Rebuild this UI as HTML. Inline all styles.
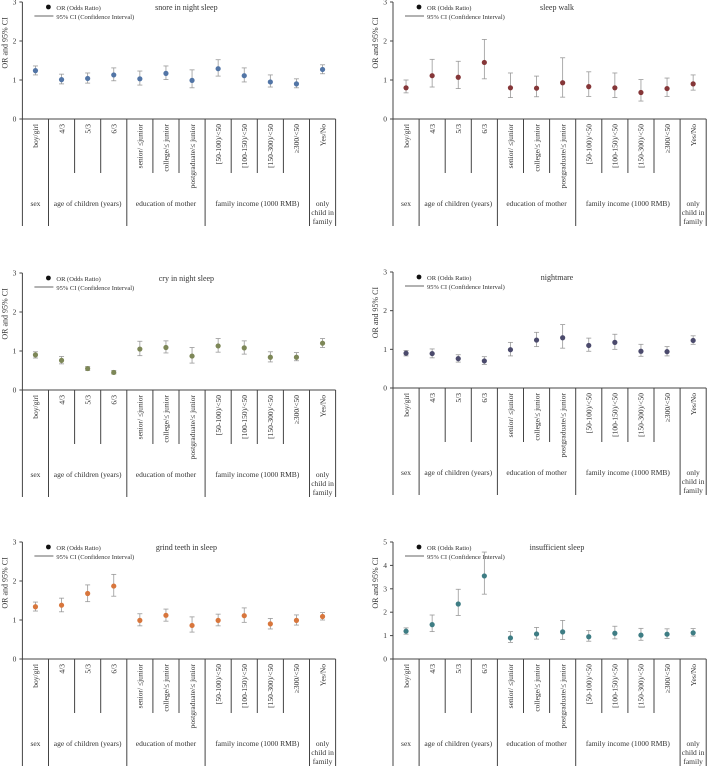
<!DOCTYPE html>
<html><head><meta charset="utf-8">
<style>
html,body{margin:0;padding:0;background:#fff;width:708px;height:768px;overflow:hidden}
svg{display:block}
text{font-family:"Liberation Serif",serif;fill:#333}
</style></head>
<body>
<svg id="fig" width="708" height="768" viewBox="0 0 708 768" xmlns="http://www.w3.org/2000/svg"></svg>
<script>
const categories = ["boy/girl","4/3","5/3","6/3","senior/ \u2264junior","college/\u2264 junior","postgraduate/\u2264 junior","[50-100)/<50","[100-150)/<50","[150-300)/<50","\u2265300/<50","Yes/No"];
const groups = [["sex",0,1],["age of children (years)",1,4],["education of mother",4,7],["family income (1000 RMB)",7,11],["only|child in|family",11,12]];
const titles = ["snore in night sleep","sleep walk","cry in night sleep","nightmare","grind teeth in sleep","insufficient sleep"];
const snoreOR = [1.24,1.01,1.04,1.13,1.03,1.17,0.99,1.29,1.11,0.95,0.90,1.27];
const snoreLo = [1.13,0.90,0.92,0.98,0.87,1.01,0.80,1.10,0.95,0.82,0.80,1.16];
const snoreHi = [1.36,1.15,1.18,1.31,1.23,1.36,1.26,1.52,1.31,1.13,1.03,1.39];
const walkOR = [0.80,1.11,1.07,1.45,0.80,0.79,0.93,0.83,0.80,0.68,0.78,0.90];
const walkLo = [0.67,0.82,0.78,1.03,0.55,0.57,0.56,0.58,0.55,0.46,0.58,0.74];
const walkHi = [1.00,1.53,1.48,2.04,1.18,1.10,1.57,1.21,1.18,1.01,1.05,1.13];
const cryOR = [0.90,0.76,0.55,0.45,1.05,1.09,0.87,1.13,1.08,0.84,0.84,1.20];
const cryLo = [0.82,0.67,0.50,0.41,0.88,0.95,0.69,0.97,0.92,0.72,0.75,1.09];
const cryHi = [0.98,0.86,0.60,0.50,1.25,1.26,1.09,1.32,1.26,0.98,0.96,1.32];
const nightOR = [0.90,0.89,0.76,0.70,0.99,1.24,1.30,1.10,1.18,0.95,0.94,1.23];
const nightLo = [0.83,0.78,0.67,0.61,0.83,1.07,1.03,0.95,1.00,0.82,0.83,1.13];
const nightHi = [0.97,1.01,0.86,0.81,1.18,1.44,1.64,1.29,1.39,1.13,1.07,1.35];
const grindOR = [1.34,1.38,1.68,1.87,0.99,1.12,0.86,0.99,1.11,0.90,0.99,1.09];
const grindLo = [1.23,1.21,1.47,1.61,0.85,0.97,0.69,0.85,0.94,0.77,0.87,1.00];
const grindHi = [1.46,1.56,1.90,2.17,1.16,1.28,1.08,1.15,1.31,1.04,1.13,1.19];
const insufOR = [1.19,1.47,2.35,3.55,0.90,1.07,1.16,0.95,1.10,1.02,1.06,1.12];
const insufLo = [1.06,1.17,1.86,2.77,0.71,0.85,0.83,0.76,0.86,0.80,0.88,0.98];
const insufHi = [1.33,1.88,2.98,4.57,1.17,1.35,1.65,1.22,1.40,1.31,1.29,1.30];
const yMaxes = [3,3,3,3,3,5];

const seriesOR=[snoreOR,walkOR,cryOR,nightOR,grindOR,insufOR];
const seriesLo=[snoreLo,walkLo,cryLo,nightLo,grindLo,insufLo];
const seriesHi=[snoreHi,walkHi,cryHi,nightHi,grindHi,insufHi];
const colors=["#5275a6","#853638","#7d8757","#4b4a6c","#d8763c","#3e7d84"];
const layout=[[22.4,119,2],[393,119,2],[22.4,390,273],[393,388,272],[22.4,659,542],[393,659,542]];
const NS="http://www.w3.org/2000/svg";
const svg=document.getElementById('fig');
function el(tag,attrs,parent,txt){const e=document.createElementNS(NS,tag);for(const k in attrs)e.setAttribute(k,attrs[k]);if(txt!==undefined)e.textContent=txt;parent.appendChild(e);return e;}

for(let p=0;p<6;p++){
  const [x0,y0,yTop]=layout[p];
  const cw=26.1;
  const ymax=yMaxes[p];
  const sy=v=>y0-(y0-yTop)*v/ymax;
  const sx=i=>x0+cw*(i+0.5);
  const g=el('g',{},svg);
  
  
  const ya=el('g',{},g);
  
  
  el('line',{x1:x0,y1:yTop,x2:x0,y2:y0,stroke:'#444','stroke-width':1},ya);
  for(let t=0;t<=ymax;t++){
    el('line',{x1:x0-3,y1:sy(t),x2:x0,y2:sy(t),stroke:'#444','stroke-width':1},ya);
    const tl=el('text',{x:x0-6,y:sy(t)+2.5,'font-size':7.5,'text-anchor':'end'},ya,String(t));
    
    
  }
  const yt=el('text',{x:0,y:0,'font-size':8,'text-anchor':'middle',transform:`translate(${x0-15},${yTop+(y0-yTop)*0.35}) rotate(-90)`},g,'OR and 95% CI');
  
  
  const xEnd=x0+cw*12;
  el('line',{x1:x0,y1:y0,x2:xEnd,y2:y0,stroke:'#444','stroke-width':1},g);
  const bounds=new Set(groups.map(gr=>gr[1]).concat([12]));
  for(let i=0;i<=12;i++){
    const x=x0+cw*i;
    const long=bounds.has(i);
    el('line',{x1:x,y1:y0,x2:x,y2:long?y0+107:y0+54,stroke:'#444','stroke-width':1},g);
  }
  categories.forEach((c,i)=>{
    const t=el('text',{x:0,y:0,'font-size':7.5,'text-anchor':'end',transform:`translate(${sx(i)+2.7},${y0+5}) rotate(-90)`},g,c);
    
    
  });
  groups.forEach(gr=>{
    const cx=x0+cw*(gr[1]+gr[2])/2;
    gr[0].split('|').forEach((line,k)=>{
      const t=el('text',{x:cx,y:y0+87+k*9,'font-size':7.5,'text-anchor':'middle'},g,line);
      
      
    });
  });
  const lg=el('g',{},g);
  
  
  el('circle',{cx:x0+26,cy:yTop+5,r:2.4,fill:'#111'},lg);
  el('text',{x:x0+34,y:yTop+8,'font-size':6.5},lg,'OR (Odds Ratio)');
  el('line',{x1:x0+12,y1:yTop+14,x2:x0+31,y2:yTop+14,stroke:'#333','stroke-width':0.8},lg);
  el('text',{x:x0+34,y:yTop+17,'font-size':6.5},lg,'95% CI (Confidence Interval)');
  const tt=el('text',{x:x0+164,y:yTop+8,'font-size':8,'text-anchor':'middle'},g,titles[p]);
  
  
  const OR=seriesOR[p],LO=seriesLo[p],HI=seriesHi[p];
  OR.forEach((v,i)=>{
    const x=sx(i);
    const m=el('g',{},g);
    
    
    el('line',{x1:x,y1:sy(LO[i]),x2:x,y2:sy(HI[i]),stroke:'#999','stroke-width':0.8},m);
    el('line',{x1:x-2.5,y1:sy(LO[i]),x2:x+2.5,y2:sy(LO[i]),stroke:'#999','stroke-width':0.8},m);
    el('line',{x1:x-2.5,y1:sy(HI[i]),x2:x+2.5,y2:sy(HI[i]),stroke:'#999','stroke-width':0.8},m);
    el('circle',{cx:x,cy:sy(v),r:2.6,fill:colors[p]},m);
  });
}
</script>
</body></html>
